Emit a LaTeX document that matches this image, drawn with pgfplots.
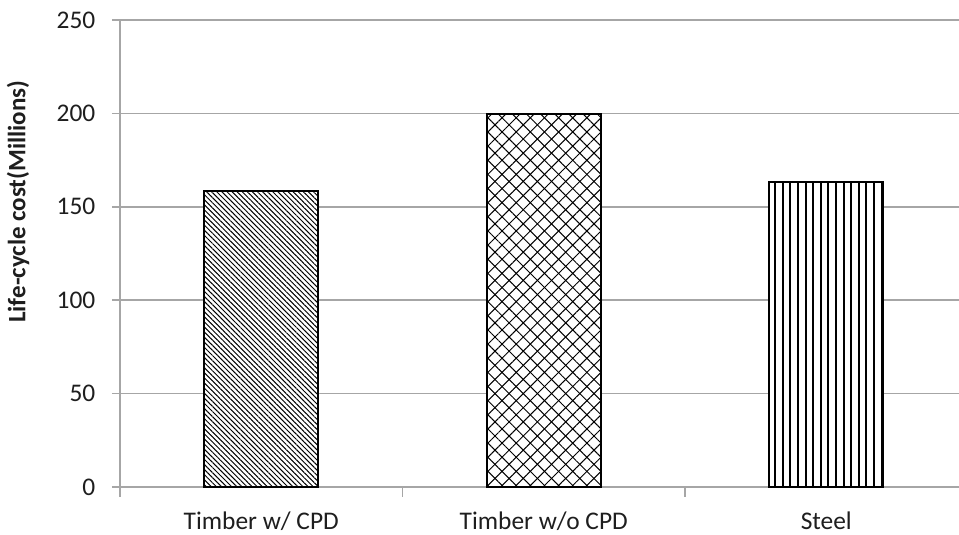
\documentclass[border=0pt]{standalone}
\usepackage{pgfplots}
\pgfplotsset{compat=1.18}
\usepackage{fontspec}
\setmainfont{Carlito}
\usetikzlibrary{patterns.meta}
\definecolor{gridgray}{RGB}{166,166,166}
\definecolor{txt}{RGB}{30,30,30}
\begin{document}
\fontsize{12.5}{15}\selectfont
\begin{tikzpicture}
\useasboundingbox (-60pt,-24pt) rectangle (419.5pt,243.5pt);
\begin{axis}[
  at={(0,0)}, anchor=south west,
  scale only axis, width=419.5pt, height=233.5pt,
  xmin=-0.5, xmax=2.4699,
  ymin=0, ymax=250,
  ytick={0,50,...,250},
  xtick={0,1,2},
  xticklabels={Timber w/ CPD, Timber w/o CPD, Steel},
  minor xtick={-0.5,0.5,1.5},
  major x tick style={draw=none},
  axis x line*=bottom, axis y line*=left,
  axis line style={gridgray, line width=0.8pt, -},
  tick style={gridgray, line width=0.8pt},
  tick align=outside,
  major tick length=4pt, minor tick length=5pt,
  ymajorgrids, grid style={gridgray, line width=0.8pt},
  yticklabel style={font=\fontsize{12.7}{15}\selectfont, text=txt, xshift=-4pt},
  xticklabel style={font=\fontsize{12.7}{15}\selectfont, text=txt, yshift=-4pt},
  /pgf/number format/assume math mode=true,
  ylabel={\bfseries Life-cycle cost(Millions)},
  ylabel style={font=\fontsize{12.5}{15}\selectfont, text=txt, at={(axis description cs:-0.1216,0.611)}, anchor=center, rotate=0},
  ybar, bar width=57pt, bar shift=0pt,
  clip=false,
]
\addplot[draw=black, line width=1pt, fill=white, postaction={pattern={Lines[angle=-45, distance=1.8pt, line width=0.5pt]}, pattern color=black}]
  coordinates {(0,158.3)};
\addplot[draw=black, line width=1pt, fill=white, postaction={pattern={Lines[angle=45, distance=5pt, line width=0.5pt]}, pattern color=black}, postaction={pattern={Lines[angle=-45, distance=5pt, line width=0.5pt]}, pattern color=black}]
  coordinates {(1,199.8)};
\addplot[draw=black, line width=1pt, fill=white, postaction={pattern={Lines[angle=90, distance=3.8pt, line width=1pt]}, pattern color=black}]
  coordinates {(2,163.5)};
\end{axis}
\end{tikzpicture}
\end{document}
